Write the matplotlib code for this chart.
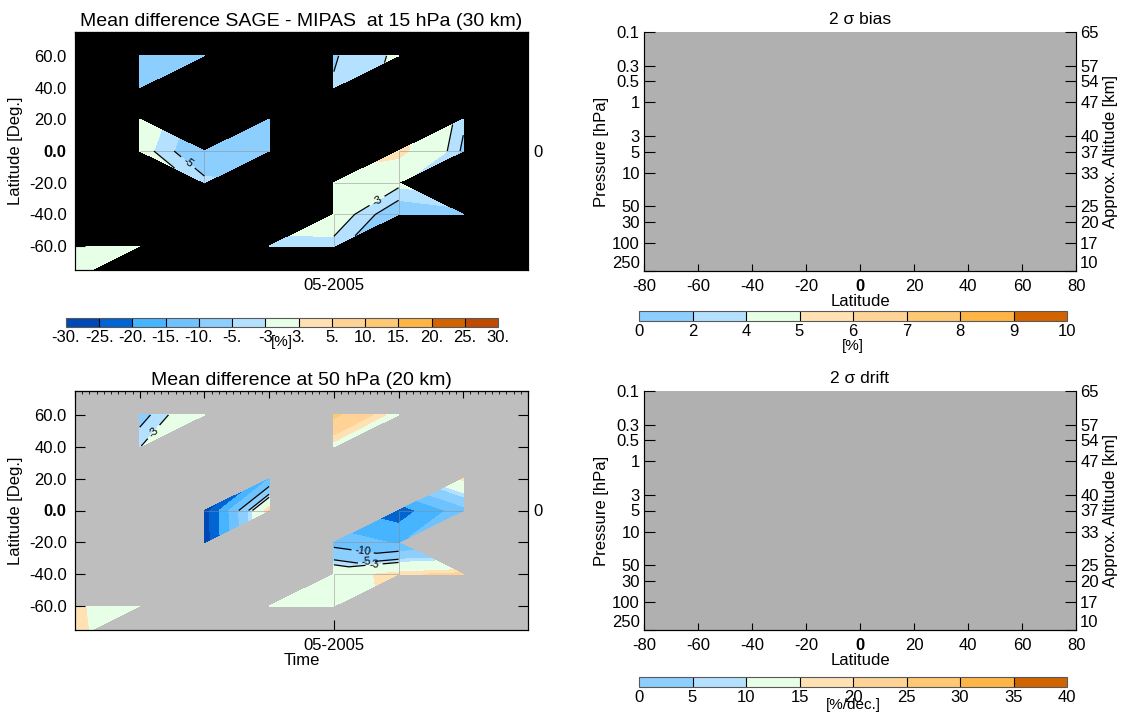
import numpy as np
import matplotlib.pyplot as plt
import matplotlib.tri as mtri
from matplotlib.colors import ListedColormap, BoundaryNorm
from matplotlib.colorbar import ColorbarBase
from matplotlib.ticker import AutoMinorLocator, NullLocator
from matplotlib.collections import LineCollection

plt.rcParams['font.family'] = ['Liberation Sans', 'DejaVu Sans']

# colour scale of the mean differences
diff_levels = [-30, -25, -20, -15, -10, -5, -3, 3, 5, 10, 15, 20, 25, 30]
diff_labels = ['-30.', '-25.', '-20.', '-15.', '-10.', '-5.', '-3', '3.',
               '5.', '10.', '15.', '20.', '25.', '30.']
diff_colors = ['#0048b4', '#0064d2', '#46b4ff', '#6ec3ff', '#8ccfff', '#b4e1ff',
               '#e6ffe6', '#ffe1b4', '#ffd296', '#ffc873', '#ffb446', '#d26400',
               '#be4b00']
line_levels = [-10, -5, -3]

# 2 sigma scales
bias_levels = [0, 2, 4, 5, 6, 7, 8, 9, 10]
drift_levels = [0, 5, 10, 15, 20, 25, 30, 35, 40]
sigma_colors = diff_colors[4:12]

months = ['01-2005', '02-2005', '03-2005', '04-2005', '05-2005', '06-2005',
          '07-2005', '08-2005']
time_label = '05-2005'
lat_ticks = [-60, -40, -20, 0, 20, 40, 60]

# 15 hPa: month index, latitude, difference [%]
t15 = [0, 0, 1, 1, 1, 2, 4, 4, 5, 1, 1, 2, 2, 3, 3, 3, 4, 4, 4, 5, 5, 5, 6, 6, 6]
lat15 = [-80, -60, -60, 40, 60, 60, 40, 60, 60, 20, 0, 0, -20, 0, 20,
         -60, -60, -40, -20, -40, -20, 0, -40, 0, 20]
d15 = [0.0, 0.0, -1.0, -7.0, -7.0, -7.0, -4.8, -5.2, -2.5, -0.5, -1.6, -8.0,
       -4.2, -9.0, -7.0, -4.0, -3.9, -1.0, 0.0, -7.25, -2.2, 4.6, -6.0, -5.5, -4.5]
tri15 = [[1, 2, 0], [3, 5, 4], [6, 8, 7], [9, 10, 11], [10, 11, 12], [11, 12, 13],
         [11, 13, 14], [15, 16, 17], [16, 17, 19], [17, 19, 20], [17, 18, 20],
         [19, 20, 22], [18, 20, 21], [20, 21, 23], [21, 23, 24]]
lined15 = [0, 0, 1, 0, 1, 0, 0, 0, 1, 1, 0, 0, 0, 0, 1]
# where the contour labels sit (month index, latitude)
labpos15 = [(1.75, -7), (4.65, -30)]

# 50 hPa
t50 = [0, 0, 1, 1, 1, 2, 4, 4, 5, 2, 2, 3, 3, 3, 4, 4, 4, 5, 5, 5, 6, 6, 6]
lat50 = [-80, -60, -60, 40, 60, 60, 40, 60, 60, 0, -20, 0, 20,
         -60, -60, -40, -20, -40, -20, 0, -40, 0, 20]
d50 = [3.8, 3.6, 0.0, -3.1, -6.2, 1.0, 1.5, 11.0, 1.0, -27.5, -28.0, 5.5, -15.0,
       0.0, 0.5, 0.8, -12.0, 4.4, -15.6, -23.0, 6.0, -12.0, 4.0]
tri50 = [[1, 2, 0], [3, 5, 4], [6, 8, 7], [10, 11, 9], [9, 11, 12], [13, 14, 15],
         [14, 15, 17], [15, 17, 18], [15, 16, 18], [17, 18, 20], [16, 18, 19],
         [18, 19, 21], [19, 21, 22]]
lined50 = [0, 1, 0, 0, 1, 0, 0, 1, 1, 0, 0, 0, 0]
labpos50 = [(1.2, 50), (4.45, -23.5), (4.5, -30.5), (4.62, -33)]

# pressure axis of the sigma panels
pres_ticks = [0.1, 0.3, 0.5, 1, 3, 5, 10, 30, 50, 100, 250]
pres_labels = ['0.1', '0.3', '0.5', '1', '3', '5', '10', '50', '30', '100', '250']
alt_labels = ['65', '57', '54', '47', '40', '37', '33', '25', '20', '17', '10']
sig_lat_ticks = [-80, -60, -40, -20, 0, 20, 40, 60, 80]

W, H = 1127, 713
fig = plt.figure(figsize=(W / 100, H / 100), dpi=100)


def rect(x0, y0, x1, y1):
    return [x0 / W, 1 - y1 / H, (x1 - x0) / W, (y1 - y0) / H]


def diff_panel(r, t, lat, d, tris, lined, labpos, face, title, xlabel=None):
    ax = fig.add_axes(r)
    ax.set_facecolor(face)
    tri = mtri.Triangulation(t, lat, tris)
    ax.tricontourf(tri, d, levels=diff_levels, colors=diff_colors)
    # faint cell edges inside the filled area
    edges = {}
    for tr in tris:
        for a, b in ((tr[0], tr[1]), (tr[1], tr[2]), (tr[2], tr[0])):
            k = (min(a, b), max(a, b))
            edges[k] = edges.get(k, 0) + 1
    segs = [[(t[a], lat[a]), (t[b], lat[b])] for (a, b), n in edges.items()
            if n == 2 and (t[a] == t[b] or lat[a] == lat[b])]
    ax.add_collection(LineCollection(segs, colors='0.55', linewidths=0.6, alpha=0.6))
    tri_l = mtri.Triangulation(t, lat, tris, mask=[not f for f in lined])
    cs = ax.tricontour(tri_l, d, levels=line_levels, colors='black',
                       linewidths=0.9, linestyles='solid')
    ax.clabel(cs, fmt='%d', fontsize=8, inline=True, manual=labpos)
    ax.set_xlim(0, len(months) - 1)
    ax.set_ylim(-75, 75)
    ax.set_xticks([months.index(time_label)])
    ax.set_xticklabels([time_label])
    ax.set_yticks(lat_ticks)
    ax.set_yticklabels(['%.1f' % v for v in lat_ticks])
    ax.get_yticklabels()[lat_ticks.index(0)].set_fontweight('bold')
    ax.tick_params(direction='in', length=7, labelsize=12, pad=6)
    ax.set_ylabel('Latitude [Deg.]', fontsize=12, labelpad=4)
    if xlabel:
        ax.set_xlabel(xlabel, fontsize=12, labelpad=0)
    ax.set_title(title, fontsize=14, pad=4)
    top = ax.secondary_xaxis('top')
    top.set_xticks(range(len(months)))
    top.set_xticklabels([])
    top.xaxis.set_minor_locator(AutoMinorLocator(9))
    top.tick_params(which='major', direction='in', length=5)
    top.tick_params(which='minor', direction='in', length=2.5)
    rax = ax.twinx()
    rax.set_ylim(-75, 75)
    rax.set_yticks(lat_ticks)
    rax.set_yticklabels(['0' if v == 0 else '' for v in lat_ticks])
    rax.tick_params(direction='in', length=7, labelsize=12, pad=4)
    return ax


def sigma_panel(r, title):
    ax = fig.add_axes(r)
    ax.set_facecolor('#b0b0b0')
    ax.set_yscale('log')
    ax.set_ylim(250, 0.1)
    ax.set_xlim(-80, 80)
    ax.set_xticks(sig_lat_ticks)
    ax.set_xticklabels(['%d' % v for v in sig_lat_ticks])
    ax.get_xticklabels()[sig_lat_ticks.index(0)].set_fontweight('bold')
    ax.set_yticks(pres_ticks)
    ax.set_yticklabels(pres_labels)
    ax.yaxis.set_minor_locator(NullLocator())
    ax.tick_params(axis='x', direction='in', length=5, labelsize=12, pad=6)
    ax.tick_params(axis='y', direction='in', length=8, labelsize=12, pad=3)
    ax.get_yticklabels()[-1].set_va('bottom')
    ax.spines['top'].set_visible(False)
    for s in ('left', 'right'):
        ax.spines[s].set_color('0.3')
    ax.set_xlabel('Latitude', fontsize=12, labelpad=0)
    ax.set_ylabel('Pressure [hPa]', fontsize=12, labelpad=2)
    ax.set_title(title, fontsize=12.5, pad=6)
    rax = ax.twinx()
    rax.set_yscale('log')
    rax.set_ylim(250, 0.1)
    rax.set_yticks(pres_ticks)
    rax.set_yticklabels(alt_labels)
    rax.yaxis.set_minor_locator(NullLocator())
    rax.tick_params(axis='y', direction='in', length=8, labelsize=12, pad=3)
    rax.get_yticklabels()[-1].set_va('bottom')
    rax.spines['top'].set_visible(False)
    rax.set_ylabel('Approx. Altitude [km]', fontsize=12, labelpad=3)
    return ax


def colour_bar(r, levels, colors, labels, unit, pad):
    cax = fig.add_axes(r)
    cmap = ListedColormap(colors)
    norm = BoundaryNorm(levels, cmap.N)
    cb = ColorbarBase(cax, cmap=cmap, norm=norm, orientation='horizontal',
                      spacing='uniform', ticks=levels, drawedges=True)
    cb.set_ticklabels(labels)
    cb.outline.set_edgecolor('0.35')
    cb.dividers.set_color('black')
    cb.dividers.set_linewidth(0.8)
    cax.tick_params(length=0, labelsize=12, pad=2)
    cax.set_xlabel(unit, fontsize=11, labelpad=pad)
    return cb


diff_panel(rect(75, 32, 528, 270), t15, lat15, d15, tri15, lined15, labpos15,
           'black', 'Mean difference SAGE - MIPAS  at 15 hPa (30 km)')
colour_bar(rect(66, 318, 498, 327), diff_levels, diff_colors, diff_labels, '[%]', -7)
diff_panel(rect(75, 391, 528, 630), t50, lat50, d50, tri50, lined50, labpos50,
           '#bebebe', 'Mean difference at 50 hPa (20 km)', xlabel='Time')

sigma_panel(rect(644, 32, 1076, 271), '2 \u03c3 bias')
colour_bar(rect(639, 311, 1067, 321), bias_levels, sigma_colors,
           [str(v) for v in bias_levels], '[%]', 0.5)
sigma_panel(rect(644, 391, 1076, 630), '2 \u03c3 drift')
colour_bar(rect(639, 677, 1067, 687), drift_levels, sigma_colors,
           [str(v) for v in drift_levels], '[%/dec.]', -5)

fig.savefig('out.png', dpi=100)
